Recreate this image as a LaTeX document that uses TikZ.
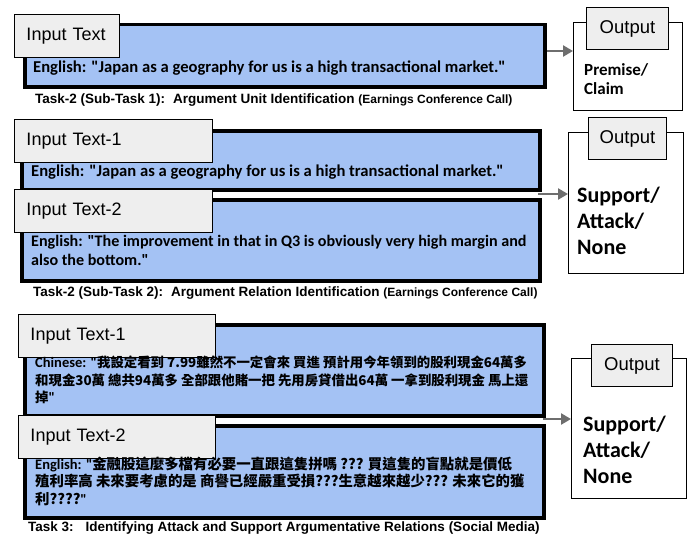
\documentclass[tikz,border=0pt]{standalone}
\usepackage{fontspec}
\setmainfont{Carlito}[Ligatures=TeXOff]
\newfontfamily\arialfont{Liberation Sans}
\newfontfamily\cjk{Noto Sans CJK TC Bold}
\usetikzlibrary{arrows.meta}

\definecolor{boxblue}{HTML}{A4C2F4}
\definecolor{lblgray}{HTML}{EEEEEE}
\definecolor{flowgray}{HTML}{6E6E6E}

\tikzset{
  inbox/.style={draw=black, line width=3.5pt, fill=boxblue, anchor=north west, inner sep=0pt},
  inlbl/.style={draw=black, line width=1pt, fill=lblgray, anchor=north west, inner sep=0pt,
    minimum height=43pt, text width=#1, align=left,
    font=\arialfont\fontsize{18}{20}\selectfont},
  outbox/.style={draw=black, line width=1.3pt, fill=white, anchor=north west, inner sep=0pt},
  outlbl/.style={draw=black, line width=1pt, fill=lblgray, anchor=north west, inner sep=0pt,
    minimum height=42pt, align=center, font=\arialfont\fontsize{18.5}{20}\selectfont},
  bodytxt/.style={anchor=west, inner sep=0pt, align=left,
    font=\bfseries\fontsize{16.6}{19}\selectfont},
  cjktxt/.style={anchor=west, inner sep=0pt, align=left,
    font=\bfseries\fontsize{14.5}{17.5}\selectfont},
  restxt/.style 2 args={anchor=west, inner sep=0pt, align=left, font=\bfseries\fontsize{#1}{#2}\selectfont},
  captxt/.style={anchor=west, inner sep=0pt, font=\arialfont\bfseries\fontsize{13.5}{15}\selectfont},
  flow/.style={draw=flowgray, line width=2.6pt, -{Triangle[length=10pt,width=11pt]}}
}
\newcommand{\srcnote}[1]{{\fontsize{12}{13}\selectfont(#1)}}
\newcommand{\zh}[2][13.4]{{\cjk\fontsize{#1}{17.5}\selectfont #2}}

\begin{document}
\begin{tikzpicture}[x=1pt,y=-1pt]
\useasboundingbox (0,0) rectangle (688,535);

% ---- Task-2, Sub-Task 1
\node[inbox, minimum width=520pt, minimum height=62pt] (boxA) at (23,23) {};
\node[inlbl=105pt, minimum width=105pt] (lblA) at (14,14) {\hspace*{12pt}Input Text};
\node[bodytxt] (txtA) at (33,68) {English: "Japan as a geography for us is a high transactional market."};
\node[captxt] (capA) at (35,100) {Task-2 (Sub-Task 1):\hspace{8pt}Argument Unit Identification \srcnote{Earnings Conference Call}};

\node[outbox, minimum width=109pt, minimum height=88pt] (outA) at (573,22) {};
\node[outlbl, minimum width=82pt] (outlblA) at (586,7) {Output};
\node[restxt={17}{19}] (resA) at (584,79.5) {Premise/\\Claim};
\coordinate (srcA) at (547,51);
\draw[flow] (srcA) -- (outA.west |- srcA);

% ---- Task-2, Sub-Task 2
\node[inbox, minimum width=518pt, minimum height=59pt] (boxB1) at (20,129) {};
\node[inlbl=198pt, minimum width=198pt] (lblB1) at (14,119) {\hspace*{12pt}Input Text-1};
\node[bodytxt] (txtB1) at (31,172) {English: "Japan as a geography for us is a high transactional market."};

\node[inbox, minimum width=518pt, minimum height=81pt] (boxB2) at (20,198) {};
\node[inlbl=198pt, minimum width=198pt] (lblB2) at (14,189) {\hspace*{12pt}Input Text-2};
\node[bodytxt, font=\bfseries\fontsize{16.1}{19}\selectfont] (txtB2) at (31,250) {English: "The improvement in that in Q3 is obviously very high margin and\\also the bottom."};
\node[captxt] (capB) at (33,293) {Task-2 (Sub-Task 2):\hspace{8pt}Argument Relation Identification \srcnote{Earnings Conference Call}};

\node[outbox, minimum width=115pt, minimum height=141pt] (outB) at (568,132) {};
\node[outlbl, minimum width=78pt] (outlblB) at (588,117) {Output};
\node[restxt={22}{26}] (resB) at (577,221) {Support/\\Attack/\\None};
\coordinate (srcB) at (538,194);
\draw[flow] (srcB) -- (outB.west |- srcB);

% ---- Task 3
\node[inbox, minimum width=519pt, minimum height=91pt] (boxC1) at (23,323) {};
\node[inlbl=197pt, minimum width=197pt] (lblC1) at (18,314) {\hspace*{12pt}Input Text-1};
\node[cjktxt] (txtC1) at (35,380)
  {Chinese: "\zh{我設定看到 7.99雖然不一定會來 買進 預計用今年領到的股利現金64萬多}\\
   \zh{和現金30萬 總共94萬多 全部跟他賭一把 先用房貸借出64萬 一拿到股利現金 馬上還}\\
   \zh{掉}"};

\node[inbox, minimum width=519pt, minimum height=92pt] (boxC2) at (23,424) {};
\node[inlbl=197pt, minimum width=197pt] (lblC2) at (18,415) {\hspace*{12pt}Input Text-2};
\node[cjktxt] (txtC2) at (35,481)
  {English: "\zh[14.4]{金融股這麼多檔有必要一直跟這隻拼嗎 ??? 買這隻的盲點就是價低}\\
   \zh[14.4]{殖利率高 未來要考慮的是 商譽已經嚴重受損???生意越來越少??? 未來它的獲}\\
   \zh[14.4]{利????}"};
\node[captxt] (capC) at (28,528) {Task 3:\hspace{12pt}Identifying Attack and Support Argumentative Relations (Social Media)};

\node[outbox, minimum width=115pt, minimum height=140pt] (outC) at (571,358) {};
\node[outlbl, minimum width=81pt] (outlblC) at (591,344) {Output};
\node[restxt={22}{26}] (resC) at (583,450) {Support/\\Attack/\\None};
\coordinate (srcC) at (543,419);
\draw[flow] (srcC) -- (outC.west |- srcC);
\end{tikzpicture}
\end{document}
